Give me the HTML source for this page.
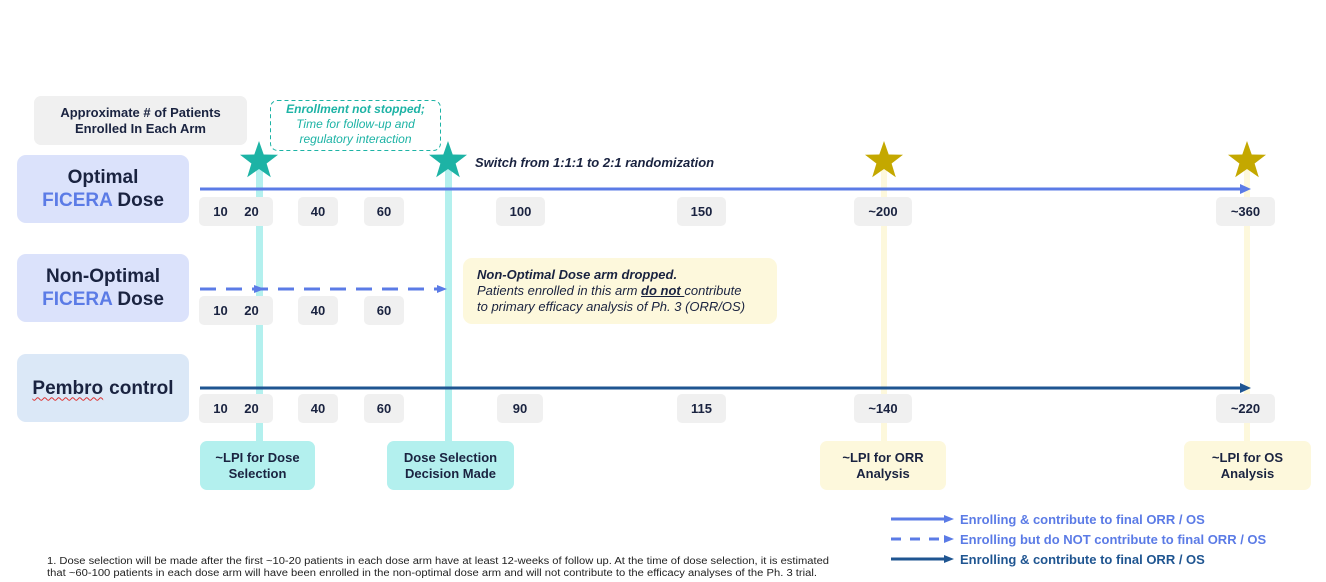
<!DOCTYPE html>
<html><head><meta charset="utf-8">
<style>
*{margin:0;padding:0;box-sizing:border-box}
body{width:1326px;height:582px;background:#fff;position:relative;overflow:hidden;font-family:"Liberation Sans",Arial,sans-serif;color:#1a2340}
.a{position:absolute}
.arm{position:absolute;left:17px;width:172px;height:68px;background:#dbe2fb;border-radius:9px;display:flex;flex-direction:column;align-items:center;justify-content:center;font-weight:bold;font-size:19px;line-height:23px;color:#1a2340;text-align:center}
.fi{color:#5b7be6}
.n{position:absolute;height:29px;background:#f0f0f0;border-radius:5px;font-weight:bold;font-size:13px;display:flex;align-items:center;justify-content:center;color:#1a2340}
.bx{position:absolute;border-radius:7px;font-weight:bold;font-size:13px;line-height:16px;display:flex;align-items:center;justify-content:center;text-align:center}
.c{background:#b3f0ee}
.y{background:#fdf8dc}
</style></head><body>

<svg class="a" style="left:0;top:0" width="1326" height="582">
  <rect x="256" y="165" width="7" height="278" fill="#b3f0ee"/>
  <rect x="445" y="165" width="7" height="278" fill="#b3f0ee"/>
  <rect x="881" y="165" width="6" height="278" fill="#fdf8dc"/>
  <rect x="1244" y="165" width="6" height="278" fill="#fdf8dc"/>
  <line x1="200" y1="189" x2="1242" y2="189" stroke="#5b7be6" stroke-width="3"/>
  <polygon points="1251,189 1240,184 1240,194" fill="#5b7be6"/>
  <line x1="200" y1="289" x2="438" y2="289" stroke="#5b7be6" stroke-width="3" stroke-dasharray="16,10"/>
  <polygon points="265,289 254,285 254,293" fill="#5b7be6"/>
  <polygon points="447,289 437,285 437,293" fill="#5b7be6"/>
  <line x1="200" y1="388" x2="1242" y2="388" stroke="#1f5591" stroke-width="3"/>
  <polygon points="1251,388 1240,383 1240,393" fill="#1f5591"/>
  <polygon fill="#1db3a5" transform="translate(259,161)" points="0,-20 4.7,-6.5 19,-6.2 7.6,2.5 11.8,16.2 0,8 -11.8,16.2 -7.6,2.5 -19,-6.2 -4.7,-6.5"/>
  <polygon fill="#1db3a5" transform="translate(448,161)" points="0,-20 4.7,-6.5 19,-6.2 7.6,2.5 11.8,16.2 0,8 -11.8,16.2 -7.6,2.5 -19,-6.2 -4.7,-6.5"/>
  <polygon fill="#c4a800" transform="translate(884,161)" points="0,-20 4.7,-6.5 19,-6.2 7.6,2.5 11.8,16.2 0,8 -11.8,16.2 -7.6,2.5 -19,-6.2 -4.7,-6.5"/>
  <polygon fill="#c4a800" transform="translate(1247,161)" points="0,-20 4.7,-6.5 19,-6.2 7.6,2.5 11.8,16.2 0,8 -11.8,16.2 -7.6,2.5 -19,-6.2 -4.7,-6.5"/>
  <rect x="270.5" y="100.5" width="170" height="50" rx="7" fill="none" stroke="#1db3a5" stroke-width="1" stroke-dasharray="4,3"/>
  <line x1="891" y1="519" x2="946" y2="519" stroke="#5b7be6" stroke-width="3"/>
  <polygon points="954,519 944,515 944,523" fill="#5b7be6"/>
  <line x1="891" y1="539" x2="946" y2="539" stroke="#5b7be6" stroke-width="3" stroke-dasharray="10,9"/>
  <polygon points="954,539 944,535 944,543" fill="#5b7be6"/>
  <line x1="891" y1="559" x2="946" y2="559" stroke="#1f5591" stroke-width="3"/>
  <polygon points="954,559 944,555 944,563" fill="#1f5591"/>
  <text x="960" y="524" font-family="Liberation Sans, sans-serif" font-weight="bold" font-size="13" fill="#5b7be6">Enrolling &amp; contribute to final ORR / OS</text>
  <text x="960" y="544" font-family="Liberation Sans, sans-serif" font-weight="bold" font-size="13" fill="#5b7be6">Enrolling but do NOT contribute to final ORR / OS</text>
  <text x="960" y="564" font-family="Liberation Sans, sans-serif" font-weight="bold" font-size="13" fill="#1f5591">Enrolling &amp; contribute to final ORR / OS</text>
  <text x="47" y="564" font-family="Liberation Sans, sans-serif" font-size="10" fill="#222" textLength="782" lengthAdjust="spacingAndGlyphs">1. Dose selection will be made after the first ~10-20 patients in each dose arm have at least 12-weeks of follow up. At the time of dose selection, it is estimated</text>
  <text x="47" y="576" font-family="Liberation Sans, sans-serif" font-size="10" fill="#222" textLength="770" lengthAdjust="spacingAndGlyphs">that ~60-100 patients in each dose arm will have been enrolled in the non-optimal dose arm and will not contribute to the efficacy analyses of the Ph. 3 trial.</text>
</svg>

<div class="bx" style="left:34px;top:96px;width:213px;height:49px;background:#f0f0f0;font-size:13px;line-height:16px">Approximate # of Patients<br>Enrolled In Each Arm</div>
<div class="a" style="left:270px;top:102px;width:171px;text-align:center;color:#1db3a5;font-size:12px;line-height:15px;font-style:italic"><b>Enrollment not stopped;</b><br>Time for follow-up and<br>regulatory interaction</div>
<div class="a" style="left:475px;top:155px;font-size:13px;font-weight:bold;font-style:italic;color:#1a2340">Switch from 1:1:1 to 2:1 randomization</div>

<div class="arm" style="top:155px"><div>Optimal</div><div><span class="fi">FICERA</span> Dose</div></div>
<div class="arm" style="top:254px"><div>Non-Optimal</div><div><span class="fi">FICERA</span> Dose</div></div>
<div class="arm" style="top:354px;background:#dbe8f7"><div style="text-decoration:underline wavy #d33 1px;text-underline-offset:3px;display:inline">Pembro<span style="text-decoration:none;display:inline-block;margin-left:6px"> control</span></div></div>

<div class="n" style="left:199px;top:197px;width:74px;justify-content:space-around;padding:0 6px"><span>10</span><span>20</span></div>
<div class="n" style="left:298px;top:197px;width:40px">40</div>
<div class="n" style="left:364px;top:197px;width:40px">60</div>
<div class="n" style="left:496px;top:197px;width:49px">100</div>
<div class="n" style="left:677px;top:197px;width:49px">150</div>
<div class="n" style="left:854px;top:197px;width:58px">~200</div>
<div class="n" style="left:1216px;top:197px;width:59px">~360</div>
<div class="n" style="left:199px;top:296px;width:74px;justify-content:space-around;padding:0 6px"><span>10</span><span>20</span></div>
<div class="n" style="left:298px;top:296px;width:40px">40</div>
<div class="n" style="left:364px;top:296px;width:40px">60</div>
<div class="n" style="left:199px;top:394px;width:74px;justify-content:space-around;padding:0 6px"><span>10</span><span>20</span></div>
<div class="n" style="left:298px;top:394px;width:40px">40</div>
<div class="n" style="left:364px;top:394px;width:40px">60</div>
<div class="n" style="left:497px;top:394px;width:46px">90</div>
<div class="n" style="left:677px;top:394px;width:49px">115</div>
<div class="n" style="left:854px;top:394px;width:58px">~140</div>
<div class="n" style="left:1216px;top:394px;width:59px">~220</div>

<div class="a" style="left:463px;top:258px;width:314px;height:66px;background:#fdf8dc;border-radius:9px;padding:9px 0 0 14px;font-size:13px;line-height:16px;font-style:italic;color:#1a2340"><b>Non-Optimal Dose arm dropped.</b><br>Patients enrolled in this arm <b><u>do not </u></b>contribute<br>to primary efficacy analysis of Ph. 3 (ORR/OS)</div>

<div class="bx c" style="left:200px;top:441px;width:115px;height:49px">~LPI for Dose<br>Selection</div>
<div class="bx c" style="left:387px;top:441px;width:127px;height:49px">Dose Selection<br>Decision Made</div>
<div class="bx y" style="left:820px;top:441px;width:126px;height:49px">~LPI for ORR<br>Analysis</div>
<div class="bx y" style="left:1184px;top:441px;width:127px;height:49px">~LPI for OS<br>Analysis</div>

</body></html>
